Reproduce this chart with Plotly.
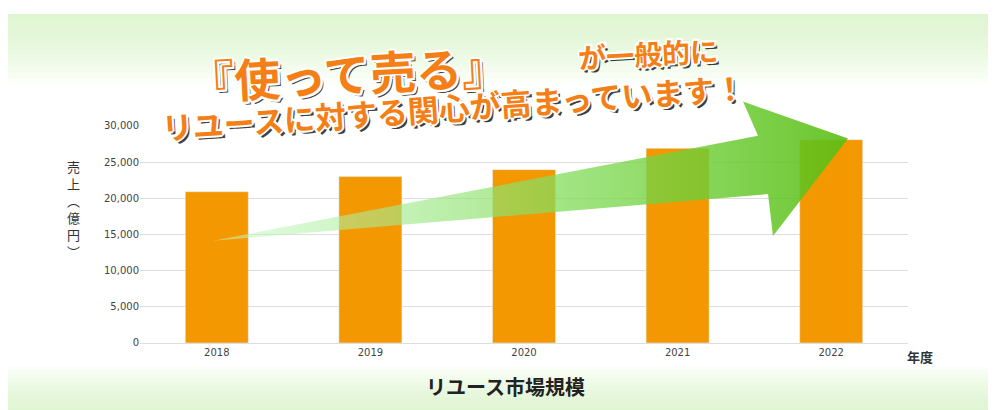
import plotly.graph_objects as go

years = ["2018", "2019", "2020", "2021", "2022"]
sales = [20900, 23000, 23950, 26900, 28100]
y_ticks = [0, 5000, 10000, 15000, 20000, 25000, 30000]

# decorative arrow outline in pixel space of the 996x410 canvas
arrow_x = [205, 750, 735, 840, 765, 760, 205]
arrow_y = [233, 125, 90, 128, 228, 185, 233]

W, H = 996, 410

fig = go.Figure()
fig.add_trace(go.Bar(x=years, y=sales, marker_color="#f39800", width=0.41))
fig.add_trace(go.Scatter(
    x=arrow_x, y=arrow_y, xaxis="x2", yaxis="y2", mode="lines",
    line=dict(width=0), fill="toself",
    fillgradient=dict(type="horizontal",
                      colorscale=[[0, "rgba(200,250,200,0.5)"], [0.55, "rgba(130,220,90,0.75)"], [1, "rgba(90,190,20,0.9)"]]),
    hoverinfo="skip"))

# background gradient bands (top and bottom green fades)
shapes = []
n = 12
for i in range(n):
    a = 1.2 / n
    shapes.append(dict(type="rect", xref="paper", yref="paper", layer="below",
                       x0=0, x1=1, y0=1 - (i + 1) * 6 / H, y1=1,
                       fillcolor=f"rgba(215,250,195,{a:.3f})", line_width=0))
    shapes.append(dict(type="rect", xref="paper", yref="paper", layer="below",
                       x0=0, x1=1, y0=0, y1=(i + 1) * 4 / H,
                       fillcolor=f"rgba(215,250,195,{a:.3f})", line_width=0))

ann = []
def title(text, x, y, size, angle):
    ann.append(dict(text=f"<b>{text}</b>", x=x + 3, y=y + 3, xref="x2", yref="y2",
                    showarrow=False, textangle=angle,
                    font=dict(size=size, color="rgba(0,0,0,0.75)", family="Noto Sans CJK JP")))
    for ox, oy in [(-2, 0), (2, 0), (0, -2), (0, 2), (-1.5, -1.5), (1.5, 1.5), (-1.5, 1.5), (1.5, -1.5)]:
        ann.append(dict(text=f"<b>{text}</b>", x=x + ox, y=y + oy, xref="x2", yref="y2",
                        showarrow=False, textangle=angle,
                        font=dict(size=size, color="white", family="Noto Sans CJK JP")))
    ann.append(dict(text=f"<b>{text}</b>", x=x, y=y, xref="x2", yref="y2",
                    showarrow=False, textangle=angle,
                    font=dict(size=size, color="#f57f17", family="Noto Sans CJK JP")))

title("『使って売る』", 340, 60, 46, -3)
title("が一般的に", 640, 40, 28, -3)
title("リユースに対する関心が高まっています！", 445, 95, 31, -4)

ann.append(dict(text="売<br>上<br>︵<br>億<br>円<br>︶", x=65, y=200, xref="x2", yref="y2", showarrow=False,
                font=dict(size=13, color="#333", family="Noto Sans CJK JP")))
ann.append(dict(text="<b>年度</b>", x=912, y=352, xref="x2", yref="y2", showarrow=False,
                font=dict(size=13, color="#333", family="Noto Sans CJK JP")))
ann.append(dict(text="<b>リユース市場規模</b>", x=497, y=383, xref="x2", yref="y2", showarrow=False,
                font=dict(size=20, color="#222", family="Noto Sans CJK JP")))

fig.update_layout(
    width=W, height=H, margin=dict(l=0, r=0, t=0, b=0),
    paper_bgcolor="white", plot_bgcolor="rgba(0,0,0,0)", showlegend=False,
    shapes=shapes, annotations=ann,
    xaxis=dict(domain=[132 / W, 900 / W], showgrid=False, showline=True, linecolor="#ddd", ticks="",
               tickfont=dict(size=10, color="#444", family="DejaVu Sans")),
    yaxis=dict(domain=[72 / H, 295 / H], range=[0, 30000], tickvals=y_ticks, tickformat=",",
               gridcolor="#ddd", zeroline=False,
               tickfont=dict(size=10, color="#444", family="DejaVu Sans")),
    xaxis2=dict(domain=[0, 1], anchor="y2", range=[0, W], visible=False, fixedrange=True),
    yaxis2=dict(domain=[0, 1], anchor="x2", range=[H, 0], visible=False, fixedrange=True),
)
fig.write_html("out.html")
